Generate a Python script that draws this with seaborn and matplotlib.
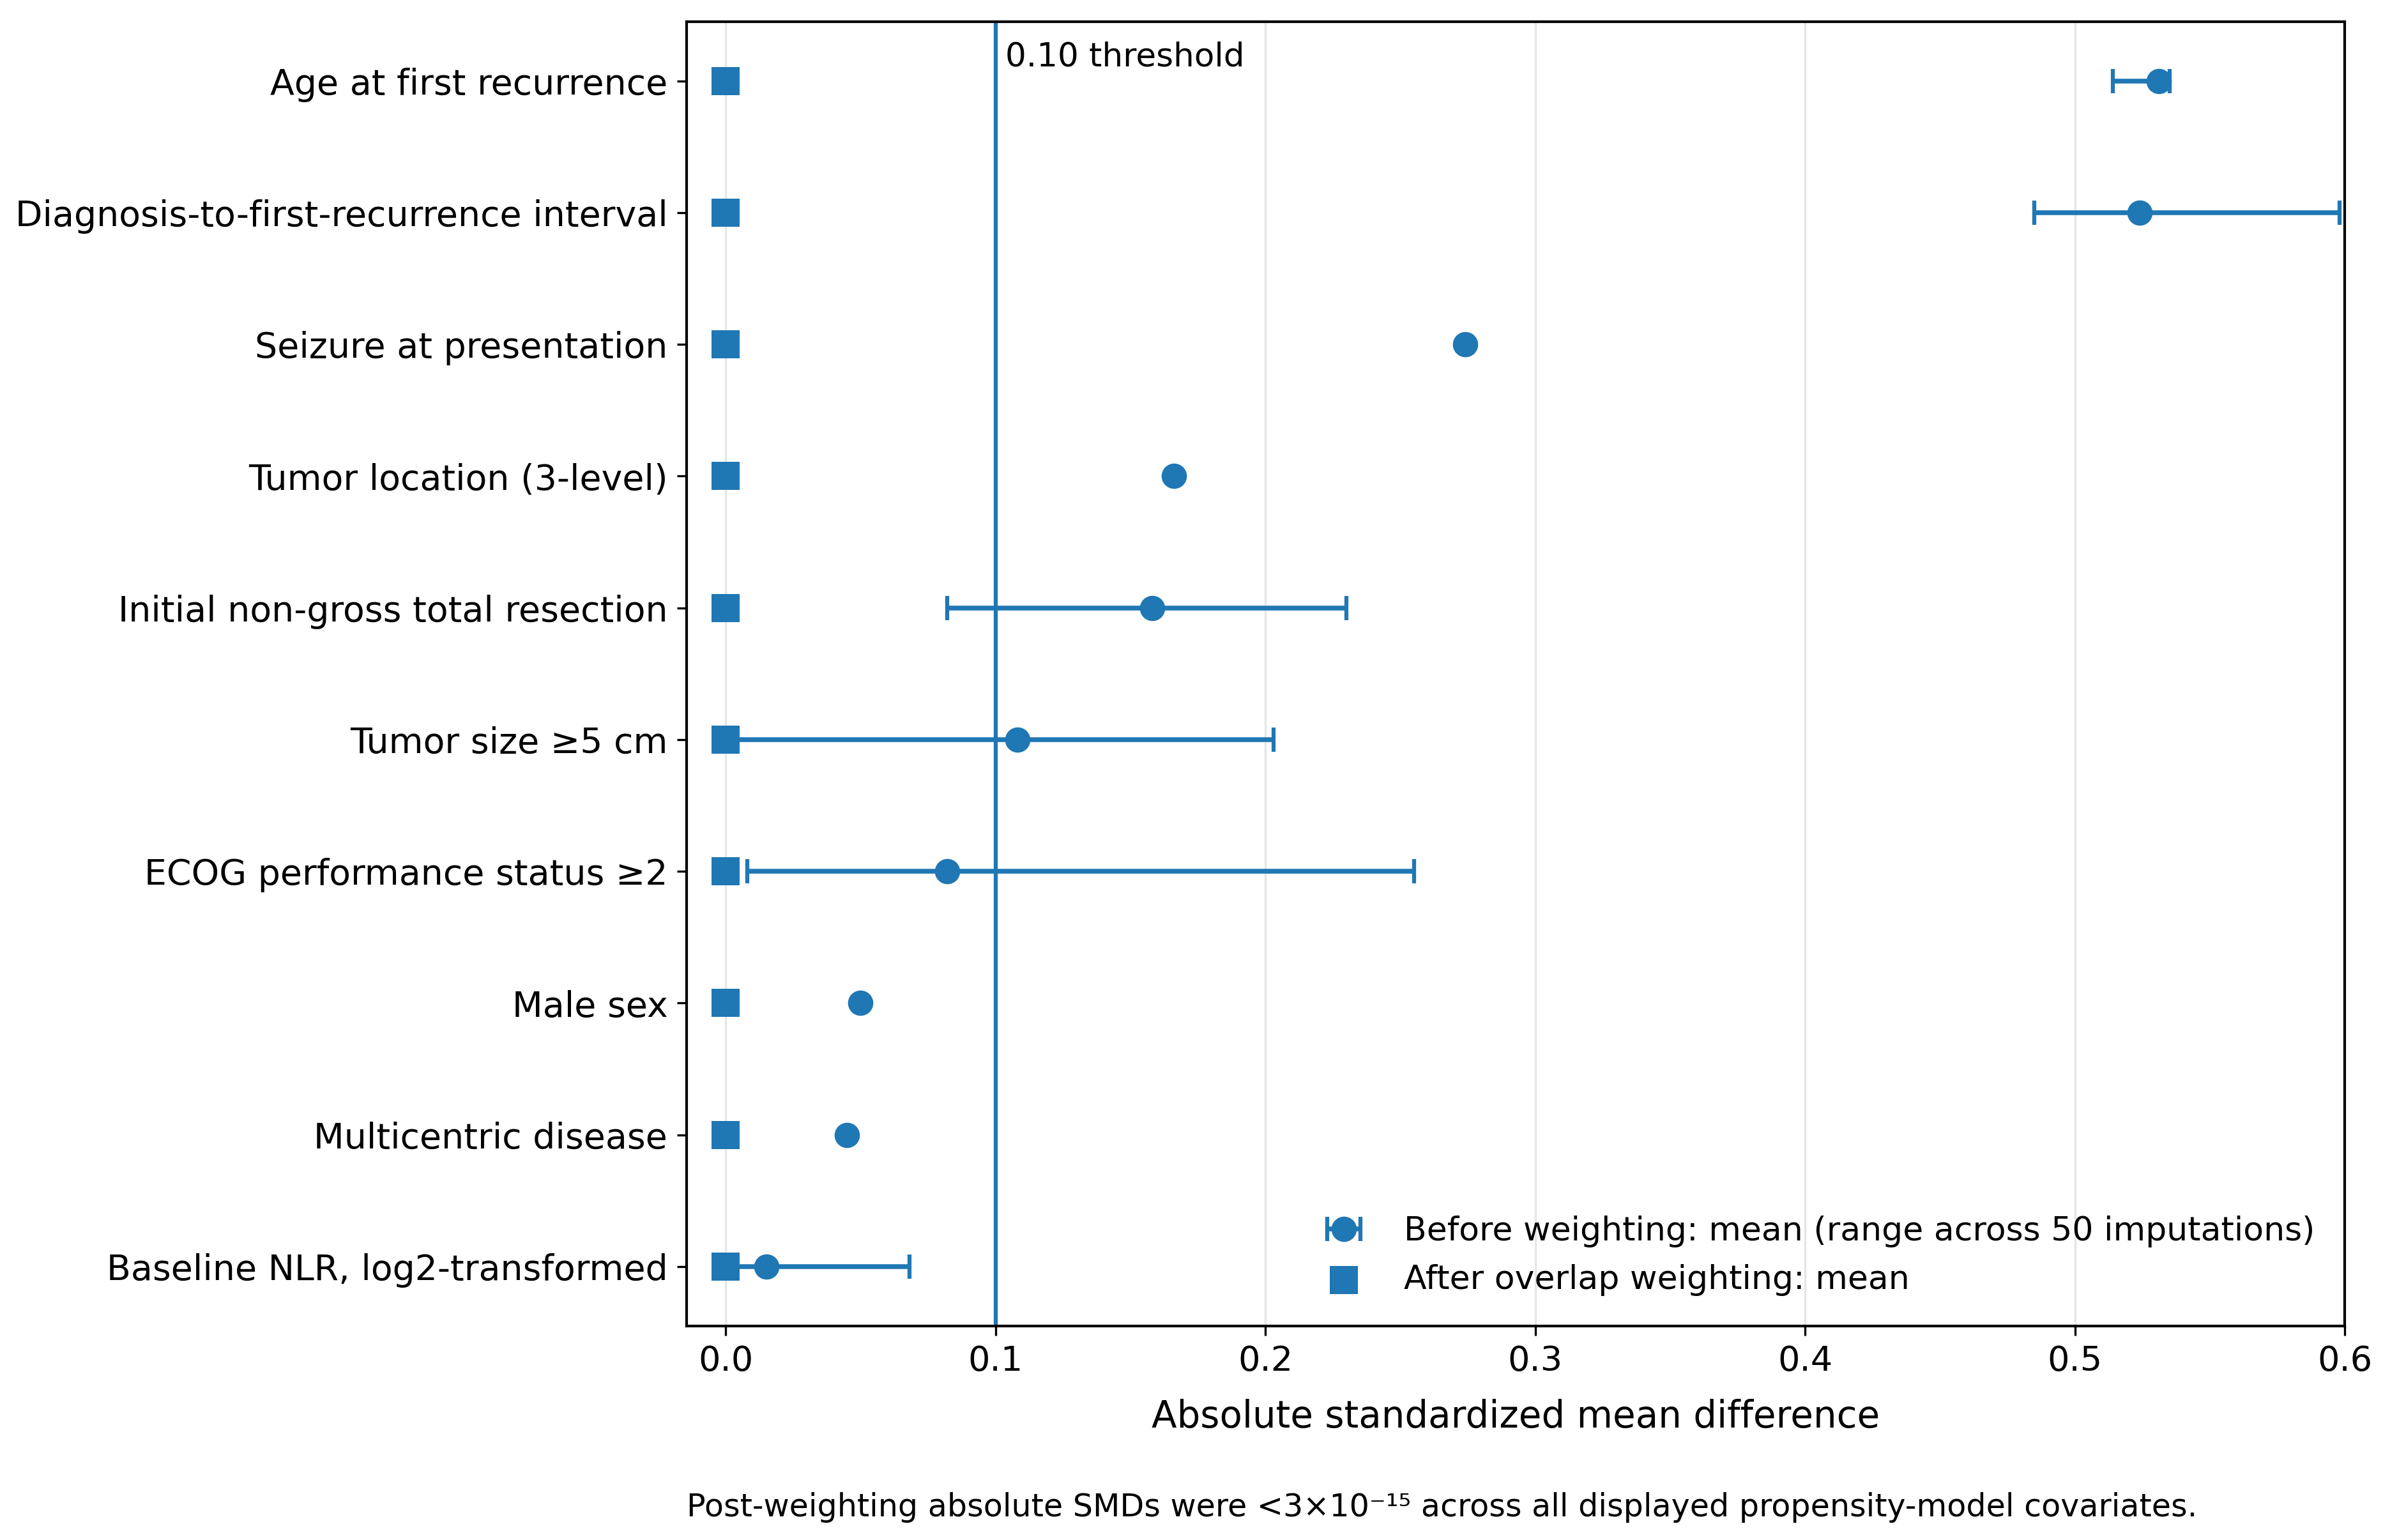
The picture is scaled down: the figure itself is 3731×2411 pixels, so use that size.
import numpy as np
import pandas as pd
import seaborn as sns
import matplotlib.pyplot as plt

sns.set_style("ticks")
plt.rcParams['font.family'] = ['DejaVu Sans']
plt.rcParams.update({
    "text.color": "black",
    "axes.labelcolor": "black",
    "xtick.color": "black",
    "ytick.color": "black",
})

# covariates, top to bottom
covariates = [
    "Age at first recurrence",
    "Diagnosis-to-first-recurrence interval",
    "Seizure at presentation",
    "Tumor location (3-level)",
    "Initial non-gross total resection",
    "Tumor size \u22655 cm",
    "ECOG performance status \u22652",
    "Male sex",
    "Multicentric disease",
    "Baseline NLR, log2-transformed",
]
before_mean = [0.531, 0.524, 0.274, 0.166, 0.158, 0.108, 0.082, 0.050, 0.045, 0.015]
before_low = [0.514, 0.485, 0.274, 0.166, 0.082, 0.003, 0.008, 0.050, 0.045, 0.001]
before_high = [0.535, 0.598, 0.274, 0.166, 0.230, 0.203, 0.255, 0.050, 0.045, 0.068]
after_mean = [0.0] * 10

blue = "#1f77b4"

df = pd.DataFrame({
    "covariate": covariates,
    "pos": np.arange(len(covariates)),
    "before": before_mean,
    "low": before_low,
    "high": before_high,
    "after": after_mean,
})

fig, ax = plt.subplots(figsize=(3731 / 300, 2411 / 300), dpi=300)
fig.subplots_adjust(left=0.288, right=0.984, top=0.986, bottom=0.139)

ax.grid(axis="x", color="#e6e6e6", linewidth=0.8, zorder=0)
ax.set_axisbelow(True)

# threshold line
ax.axvline(0.10, color=blue, linewidth=1.5, zorder=1)
ax.text(0.1035, 0.985, "0.10 threshold", transform=ax.get_xaxis_transform(),
        ha="left", va="top", fontsize=12.4)

# before weighting: mean with range across imputations
xerr = np.array([df["before"] - df["low"], df["high"] - df["before"]])
ax.errorbar(df["before"], df["pos"], xerr=xerr, fmt="o", color=blue,
            markersize=8.5, elinewidth=1.8, capsize=4.5, capthick=1.5,
            label="Before weighting: mean (range across 50 imputations)", zorder=3)

# after weighting
sns.scatterplot(data=df, x="after", y="pos", marker="s", s=110, color=blue,
                linewidth=0, ax=ax, zorder=4, label="After overlap weighting: mean")

ax.set_yticks(df["pos"])
ax.set_yticklabels(df["covariate"], fontsize=13.3)
ax.set_ylim(len(covariates) - 0.55, -0.45)
ax.set_xlim(-0.0146, 0.6)
ax.set_xticks([0.0, 0.1, 0.2, 0.3, 0.4, 0.5, 0.6])
ax.tick_params(axis="x", labelsize=13)
ax.set_xlabel("Absolute standardized mean difference", fontsize=13.9, labelpad=8)
ax.set_ylabel("")

for sp in ax.spines.values():
    sp.set_color("black")
    sp.set_linewidth(1.0)

handles, labels = ax.get_legend_handles_labels()
order = [labels.index(l) for l in sorted(labels, key=lambda t: not t.startswith("Before"))]
ax.legend([handles[i] for i in order], [labels[i] for i in order],
          loc="lower right", frameon=False, fontsize=12.5)

fig.text(0.288, 0.021,
         "Post-weighting absolute SMDs were <3\u00d710\u207b\u00b9\u2075 across all displayed propensity-model covariates.",
         ha="left", va="center", fontsize=11.8)

plt.savefig("out.png", dpi=300)
